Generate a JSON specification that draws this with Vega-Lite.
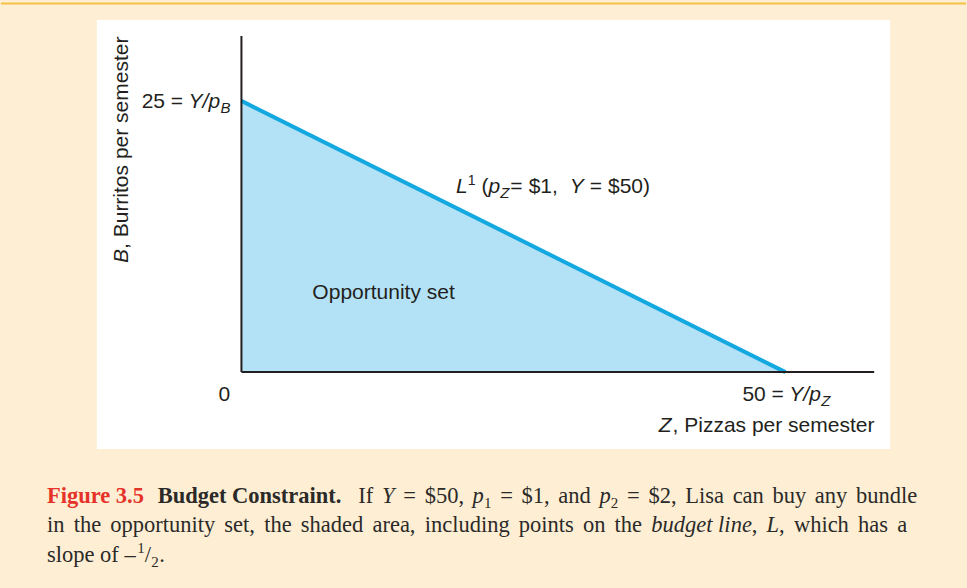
{
  "$schema": "https://vega.github.io/schema/vega-lite/v6.json",
  "width": 967,
  "height": 588,
  "autosize": {"type": "fit", "contains": "padding"},
  "padding": 0,
  "background": "#FEEFD4",
  "config": {"view": {"stroke": null}},
  "datasets": {
    "frame_top": [{"x": -22.1, "x2": 66.6, "y": 33.98}],
    "panel": [{"x": -13.29, "x2": 59.63, "y": 32.46, "y2": -7.09}],
    "budget": [{"x": 0, "y": 25}, {"x": 50, "y": 0}],
    "axes": [
      {"x": 0, "y": 0, "x2": 0, "y2": 30.98},
      {"x": 0, "y": 0, "x2": 58.16, "y2": 0}
    ],
    "sans": [
      {"text": "25 = ", "x": -9.17, "y": 24.35},
      {"text": "0", "x": -2.1, "y": -2.65},
      {"text": "50 = ", "x": 46.05, "y": -2.65},
      {"text": ", Pizzas per semester", "x": 39.63, "y": -5.52},
      {"text": "(", "x": 22.07, "y": 16.51},
      {"text": "=", "x": 24.72, "y": 16.51},
      {"text": "$1,", "x": 26.4, "y": 16.51},
      {"text": "=", "x": 32.01, "y": 16.51},
      {"text": "$50)", "x": 33.69, "y": 16.51},
      {"text": "Opportunity set", "x": 6.52, "y": 6.74}
    ],
    "sans_small": [{"text": "1", "x": 20.8, "y": 17.25}],
    "sans_italic": [
      {"text": "Y/p", "x": -4.86, "y": 24.35},
      {"text": "Y/p", "x": 50.36, "y": -2.65},
      {"text": "Z", "x": 38.35, "y": -5.52},
      {"text": "L", "x": 19.73, "y": 16.51},
      {"text": "p", "x": 22.71, "y": 16.51},
      {"text": "Y", "x": 30.18, "y": 16.51}
    ],
    "sans_sub": [
      {"text": "B", "x": -1.92, "y": 23.88},
      {"text": "Z", "x": 53.3, "y": -3.12},
      {"text": "Z", "x": 23.78, "y": 16.05}
    ],
    "sans_rot_italic": [{"text": "B", "x": -10.45, "y": 10.06}],
    "sans_rot": [{"text": ", Burritos per semester", "x": -10.45, "y": 11.35}],
    "serif_red_bold": [{"text": "Figure 3.5", "x": -17.88, "y": -12.07}],
    "serif_bold": [{"text": "Budget Constraint.", "x": -7.7, "y": -12.07}],
    "serif": [
      {"text": "If", "x": 10.74, "y": -12.07},
      {"text": "=", "x": 14.87, "y": -12.07},
      {"text": "$50,", "x": 16.84, "y": -12.07},
      {"text": "=", "x": 23.78, "y": -12.07},
      {"text": "$1,", "x": 25.75, "y": -12.07},
      {"text": "and", "x": 29.13, "y": -12.07},
      {"text": "=", "x": 35.44, "y": -12.07},
      {"text": "$2,", "x": 37.41, "y": -12.07},
      {"text": "Lisa", "x": 40.79, "y": -12.07},
      {"text": "can", "x": 45.15, "y": -12.07},
      {"text": "buy", "x": 48.81, "y": -12.07},
      {"text": "any", "x": 52.7, "y": -12.07},
      {"text": "bundle", "x": 56.49, "y": -12.07},
      {"text": "in", "x": -17.88, "y": -14.74},
      {"text": "the", "x": -15.42, "y": -14.74},
      {"text": "opportunity", "x": -12.06, "y": -14.74},
      {"text": "set,", "x": -1.57, "y": -14.74},
      {"text": "the", "x": 2.09, "y": -14.74},
      {"text": "shaded", "x": 5.46, "y": -14.74},
      {"text": "area,", "x": 12.04, "y": -14.74},
      {"text": "including", "x": 16.85, "y": -14.74},
      {"text": "points", "x": 25.49, "y": -14.74},
      {"text": "on", "x": 31.39, "y": -14.74},
      {"text": "the", "x": 34.3, "y": -14.74},
      {"text": ",", "x": 46.9, "y": -14.74},
      {"text": ",", "x": 49.41, "y": -14.74},
      {"text": "which", "x": 50.78, "y": -14.74},
      {"text": "has", "x": 56.67, "y": -14.74},
      {"text": "a", "x": 60.27, "y": -14.74},
      {"text": "slope of –", "x": -17.88, "y": -17.5},
      {"text": "/", "x": -8.89, "y": -17.5},
      {"text": ".", "x": -7.56, "y": -17.5}
    ],
    "serif_italic": [
      {"text": "Y", "x": 12.92, "y": -12.07},
      {"text": "p", "x": 21.25, "y": -12.07},
      {"text": "p", "x": 32.92, "y": -12.07},
      {"text": "budget line", "x": 37.67, "y": -14.74},
      {"text": "L", "x": 48.26, "y": -14.74}
    ],
    "serif_small": [
      {"text": "1", "x": 22.29, "y": -12.53},
      {"text": "2", "x": 33.95, "y": -12.53},
      {"text": "1", "x": -9.58, "y": -16.67},
      {"text": "2", "x": -8.29, "y": -17.96}
    ]
  },
  "encoding": {
    "x": {"field": "x", "type": "quantitative", "scale": {"domain": [-22.1, 66.6], "nice": false, "zero": false}, "axis": null},
    "y": {"field": "y", "type": "quantitative", "scale": {"domain": [-19.9, 34.3], "nice": false, "zero": false}, "axis": null}
  },
  "layer": [
    {"data": {"name": "frame_top"}, "mark": {"type": "rule", "color": "#F5C243", "strokeWidth": 2}, "encoding": {"x2": {"field": "x2"}}},
    {"data": {"name": "panel"}, "mark": {"type": "rect", "fill": "#FFFFFF"}, "encoding": {"x2": {"field": "x2"}, "y2": {"field": "y2"}}},
    {"data": {"name": "budget"}, "mark": {"type": "area", "fill": "#B3E2F6", "opacity": 1}, "encoding": {"y2": {"datum": 0}}},
    {"data": {"name": "budget"}, "mark": {"type": "line", "color": "#14A8E0", "strokeWidth": 4}, "encoding": {}},
    {"data": {"name": "axes"}, "mark": {"type": "rule", "color": "#231F20", "strokeWidth": 2}, "encoding": {"x2": {"field": "x2"}, "y2": {"field": "y2"}}},
    {"data": {"name": "sans"}, "mark": {"type": "text", "align": "left", "baseline": "alphabetic", "font": "Liberation Sans", "fontSize": 21, "color": "#231F20"}, "encoding": {"text": {"field": "text"}}},
    {"data": {"name": "sans_small"}, "mark": {"type": "text", "align": "left", "baseline": "alphabetic", "font": "Liberation Sans", "fontSize": 14, "color": "#231F20"}, "encoding": {"text": {"field": "text"}}},
    {"data": {"name": "sans_italic"}, "mark": {"type": "text", "align": "left", "baseline": "alphabetic", "font": "Liberation Sans", "fontStyle": "italic", "fontSize": 21, "color": "#231F20"}, "encoding": {"text": {"field": "text"}}},
    {"data": {"name": "sans_sub"}, "mark": {"type": "text", "align": "left", "baseline": "alphabetic", "font": "Liberation Sans", "fontStyle": "italic", "fontSize": 15, "color": "#231F20"}, "encoding": {"text": {"field": "text"}}},
    {"data": {"name": "sans_rot_italic"}, "mark": {"type": "text", "align": "left", "baseline": "alphabetic", "angle": 270, "font": "Liberation Sans", "fontStyle": "italic", "fontSize": 21, "color": "#231F20"}, "encoding": {"text": {"field": "text"}}},
    {"data": {"name": "sans_rot"}, "mark": {"type": "text", "align": "left", "baseline": "alphabetic", "angle": 270, "font": "Liberation Sans", "fontSize": 21, "color": "#231F20"}, "encoding": {"text": {"field": "text"}}},
    {"data": {"name": "serif_red_bold"}, "mark": {"type": "text", "align": "left", "baseline": "alphabetic", "font": "Liberation Serif", "fontWeight": "bold", "fontSize": 22.5, "color": "#E5332A"}, "encoding": {"text": {"field": "text"}}},
    {"data": {"name": "serif_bold"}, "mark": {"type": "text", "align": "left", "baseline": "alphabetic", "font": "Liberation Serif", "fontWeight": "bold", "fontSize": 22.5, "color": "#2B2A29"}, "encoding": {"text": {"field": "text"}}},
    {"data": {"name": "serif"}, "mark": {"type": "text", "align": "left", "baseline": "alphabetic", "font": "Liberation Serif", "fontSize": 22.5, "color": "#2B2A29"}, "encoding": {"text": {"field": "text"}}},
    {"data": {"name": "serif_italic"}, "mark": {"type": "text", "align": "left", "baseline": "alphabetic", "font": "Liberation Serif", "fontStyle": "italic", "fontSize": 22.5, "color": "#2B2A29"}, "encoding": {"text": {"field": "text"}}},
    {"data": {"name": "serif_small"}, "mark": {"type": "text", "align": "left", "baseline": "alphabetic", "font": "Liberation Serif", "fontSize": 15, "color": "#2B2A29"}, "encoding": {"text": {"field": "text"}}}
  ]
}
